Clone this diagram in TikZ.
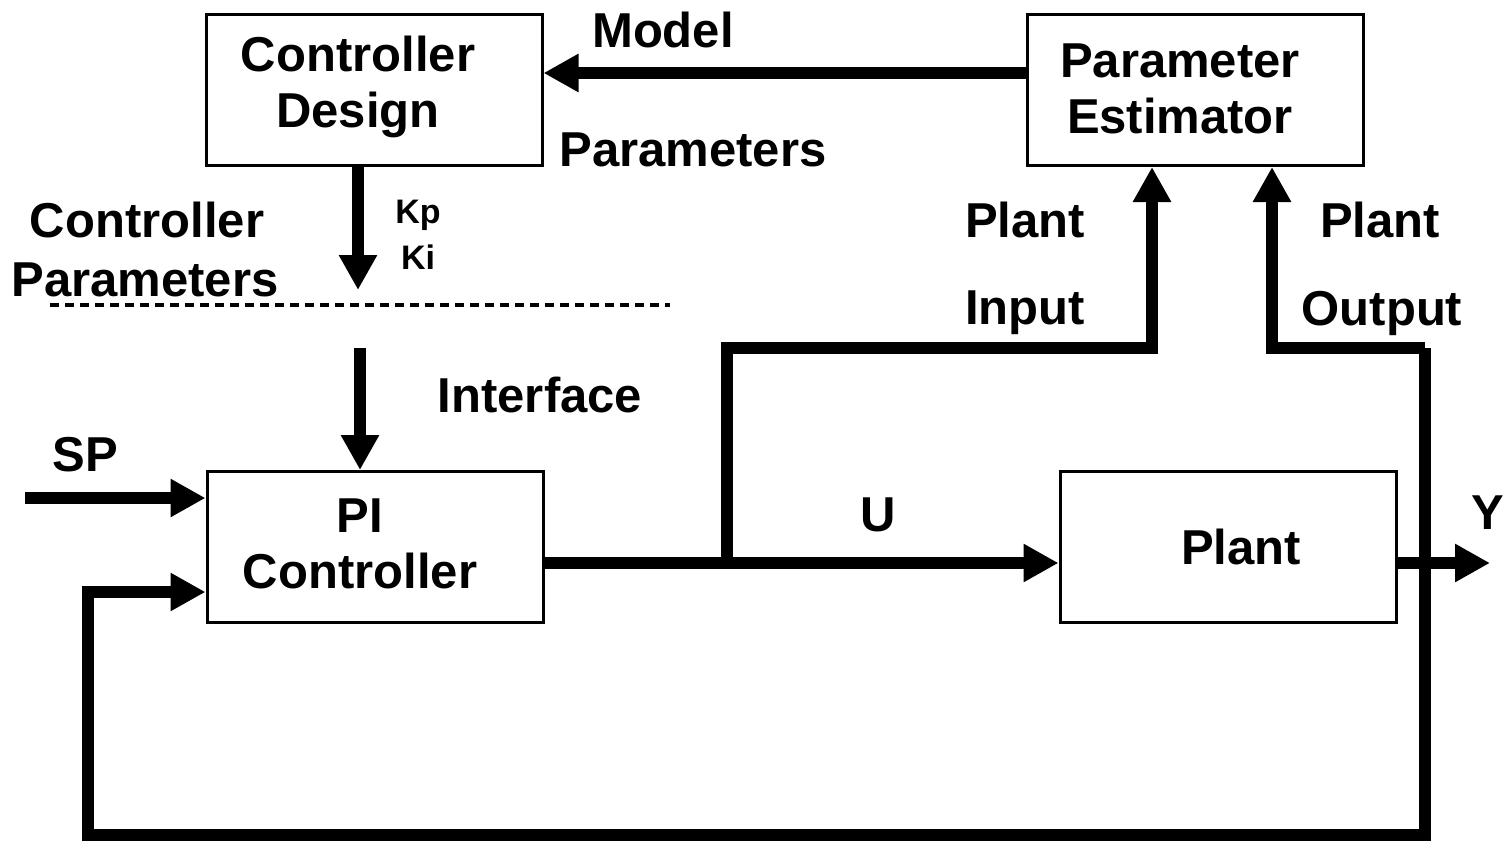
\documentclass[tikz,border=0pt]{standalone}
\usepackage{fontspec}
\setmainfont{Liberation Sans}
\usetikzlibrary{arrows.meta}
\begin{document}
\begin{tikzpicture}[x=0.5pt,y=-0.5pt,
  blk/.style={draw,line width=1.5pt,minimum width=168pt,minimum height=75.5pt,inner sep=0pt},
  btxt/.style={inner sep=0pt,align=center,font=\bfseries\fontsize{24.5}{28}\selectfont},
  lbl/.style={inner sep=0pt,font=\bfseries\fontsize{24.5}{28}\selectfont},
  slbl/.style={inner sep=0pt,font=\bfseries\fontsize{17}{20}\selectfont},
  arr/.style={line width=6pt,-{Triangle[length=17.5pt,width=18pt]}},
  dashline/.style={line width=2pt,dash pattern=on 4.5pt off 3pt}]
\useasboundingbox (0,0) rectangle (1511,847);
% boxes
\node[blk] (cd) at (374,90) {};
\node[blk] (pe) at (1195.5,90) {};
\node[blk] (pi) at (375,547) {};
\node[blk] (pl) at (1228,547) {};
\node[btxt] (cdt) at (358,87) {Controller\\Design};
\node[btxt] (pet) at (1180,89) {Parameter\\Estimator};
\node[btxt] (pit) at (360,544) {PI\\Controller};
\node[btxt] (plt) at (1241,547) {Plant};
% coordinates
\coordinate (kpend) at (358,290);
\coordinate (ifs) at (360,348);
\coordinate (sp) at (25,498);
\coordinate (tr) at (1425,348);
\coordinate (br) at (1425,835);
\coordinate (bl) at (88,835);
\coordinate (jn) at (727,563);
\coordinate (pin) at (1152,348);
\coordinate (yend) at (1490,563);
\coordinate (dl) at (50,305);
\coordinate (dr) at (670,305);
% labels
\node[lbl] (tmodel) at (663,30) {Model};
\node[lbl] (tparams) at (693,150) {Parameters};
\node[lbl] (tcp1) at (147,220) {Controller};
\node[lbl] (tcp2) at (145,280) {Parameters};
\node[slbl] (tkp) at (418,215) {Kp};
\node[slbl] (tki) at (418,257) {Ki};
\node[lbl] (tif) at (540,395) {Interface};
\node[lbl] (tsp) at (85,455) {SP};
\node[lbl] (tu) at (878,515) {U};
\node[lbl] (ty) at (1488,513) {Y};
\node[lbl] (tpi1) at (1025,220) {Plant};
\node[lbl] (tpi2) at (1025,313) {Input};
\node[lbl] (tpo1) at (1380,220) {Plant};
\node[lbl] (tpo2) at (1382,313) {Output};
% connectors
\draw[arr] ([yshift=8.5pt]pe.west) -- ([yshift=8.5pt]cd.east);
\draw[arr] ([xshift=-8pt]cd.south) -- (kpend);
\draw[dashline] (dl) -- (dr);
\draw[arr] (ifs) -- (ifs |- pi.north);
\draw[arr] (sp) -- (sp -| pi.west);
\draw[arr] ([yshift=-8pt]pi.east) -- ([yshift=-8pt]pl.west);
\draw[arr] ([yshift=-8pt]pl.east) -- (yend);
\draw[arr,line cap=square,line join=miter] (jn) -- (jn |- pin) -- (pin) -- ([xshift=-21.75pt]pe.south);
\draw[arr,line cap=square,line join=miter] (tr) -- ([xshift=38.25pt]pe.south |- tr) -- ([xshift=38.25pt]pe.south);
\draw[arr,line cap=square,line join=miter] (tr) -- (br) -- (bl) -- (bl |- 0,592) -- ([yshift=-22.5pt]pi.west);
\end{tikzpicture}
\end{document}
